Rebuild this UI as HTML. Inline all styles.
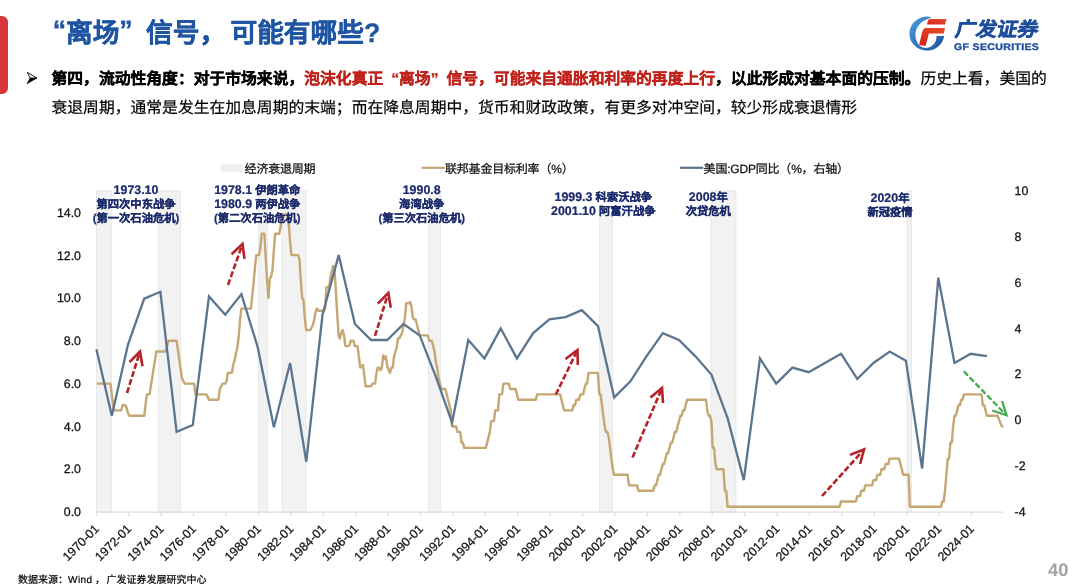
<!DOCTYPE html>
<html lang="zh-CN"><head><meta charset="utf-8"><title>“离场”信号，可能有哪些？</title>
<style>
html,body{margin:0;padding:0;background:#fff;}
body{width:1080px;height:588px;position:relative;overflow:hidden;text-rendering:geometricPrecision;will-change:transform;font-family:"Liberation Sans",sans-serif;color:#000;}
.abs{position:absolute;white-space:nowrap;}
#tab{left:-6px;top:16px;width:13.5px;height:78px;background:#d7373a;border-radius:6px;}
.title{top:12.5px;font-size:26.7px;line-height:40px;font-weight:bold;color:#1f55a2;-webkit-text-stroke:0.35px #1f55a2;}
.q{display:inline-block;width:1em;}.title .q{position:relative;top:-2.5px;}.ql{text-align:right;}.qr{text-align:left;}
#l1{left:51.5px;top:65.4px;font-size:15.8px;line-height:29px;font-weight:bold;-webkit-text-stroke:0.3px;}
#l1 .r{color:#c0231c;} #l1 .n{font-weight:normal;-webkit-text-stroke:0.2px #000;}
#l2{left:51.5px;top:93.8px;font-size:15.8px;line-height:29px;-webkit-text-stroke:0.2px #000;}
#src{left:18px;top:574.3px;font-size:10px;line-height:14px;-webkit-text-stroke:0.2px #000;}
#pg{left:1048px;top:558.5px;font-size:18.3px;line-height:22px;font-weight:bold;color:#a3a3a3;}
.ann{font-size:11.3px;line-height:13.6px;font-weight:bold;color:#1b2a6b;-webkit-text-stroke:0.22px #1b2a6b;text-align:center;transform:translateX(-50%);}
.ann b{font-size:12.4px;line-height:0;}
.lg{font-size:12px;line-height:16px;color:#111;-webkit-text-stroke:0.25px #111;letter-spacing:-0.2px;}
svg{position:absolute;left:0;top:0;}
svg text{font-family:"Liberation Sans",sans-serif;font-size:12.4px;fill:#111;stroke:#111;stroke-width:0.25px;}
#lgcn{left:953px;top:16.3px;font-size:19.4px;line-height:28px;font-weight:bold;color:#1f4e9d;-webkit-text-stroke:0.6px #1f4e9d;transform-origin:0 100%;transform:skewX(-11deg) scaleX(1.065);}
#lgen{left:954px;top:41.5px;font-size:9.6px;line-height:11px;font-weight:bold;color:#1f4e9d;-webkit-text-stroke:0.35px #1f4e9d;letter-spacing:0.3px;transform-origin:0 0;transform:scaleX(1.1);}
</style></head><body>
<div id="tab" class="abs"></div>
<div id="t1" class="abs title" style="left:39.3px;"><span class="q ql">“</span>离场<span class="q qr">”</span>信号，</div>
<div id="t2" class="abs title" style="left:230.5px;">可能有哪些?</div>
<div id="l1" class="abs">第四，流动性角度：对于市场来说，<span class="r">泡沫化真正<span class="q ql">“</span>离场<span class="q qr">”</span>信号，可能来自通胀和利率的再度上行</span>，以此形成对基本面的压制。<span class="n">历史上看，美国的</span></div>
<div id="l2" class="abs">衰退周期，通常是发生在加息周期的末端；而在降息周期中，货币和财政政策，有更多对冲空间，较少形成衰退情形</div>

<svg width="1080" height="588" viewBox="0 0 1080 588">
<g id="bands">
<rect x="96.4" y="191.0" width="14.9" height="321.2" fill="#f2f2f2" stroke="#e4e4e4" stroke-width="0.8"/>
<rect x="158.5" y="191.0" width="22.3" height="321.2" fill="#f2f2f2" stroke="#e4e4e4" stroke-width="0.8"/>
<rect x="258.5" y="191.0" width="8.8" height="321.2" fill="#f2f2f2" stroke="#e4e4e4" stroke-width="0.8"/>
<rect x="282.1" y="191.0" width="24.0" height="321.2" fill="#f2f2f2" stroke="#e4e4e4" stroke-width="0.8"/>
<rect x="428.4" y="191.0" width="12.4" height="321.2" fill="#f2f2f2" stroke="#e4e4e4" stroke-width="0.8"/>
<rect x="599.7" y="191.0" width="13.0" height="321.2" fill="#f2f2f2" stroke="#e4e4e4" stroke-width="0.8"/>
<rect x="710.9" y="191.0" width="25.0" height="321.2" fill="#f2f2f2" stroke="#e4e4e4" stroke-width="0.8"/>
<rect x="907.0" y="191.0" width="4.6" height="321.2" fill="#f2f2f2" stroke="#e4e4e4" stroke-width="0.8"/>
</g>
<rect x="597" y="189" width="19" height="24.7" fill="#fff"/>
<g id="axis">
<line x1="95.9" y1="512.2" x2="1002.5" y2="512.2" stroke="#dcdcdc" stroke-width="1.2"/>
<line x1="96.4" y1="512.2" x2="96.4" y2="516.2" stroke="#dcdcdc" stroke-width="1.2"/>
<line x1="128.8" y1="512.2" x2="128.8" y2="516.2" stroke="#dcdcdc" stroke-width="1.2"/>
<line x1="161.2" y1="512.2" x2="161.2" y2="516.2" stroke="#dcdcdc" stroke-width="1.2"/>
<line x1="193.6" y1="512.2" x2="193.6" y2="516.2" stroke="#dcdcdc" stroke-width="1.2"/>
<line x1="226.0" y1="512.2" x2="226.0" y2="516.2" stroke="#dcdcdc" stroke-width="1.2"/>
<line x1="258.5" y1="512.2" x2="258.5" y2="516.2" stroke="#dcdcdc" stroke-width="1.2"/>
<line x1="290.9" y1="512.2" x2="290.9" y2="516.2" stroke="#dcdcdc" stroke-width="1.2"/>
<line x1="323.3" y1="512.2" x2="323.3" y2="516.2" stroke="#dcdcdc" stroke-width="1.2"/>
<line x1="355.7" y1="512.2" x2="355.7" y2="516.2" stroke="#dcdcdc" stroke-width="1.2"/>
<line x1="388.1" y1="512.2" x2="388.1" y2="516.2" stroke="#dcdcdc" stroke-width="1.2"/>
<line x1="420.5" y1="512.2" x2="420.5" y2="516.2" stroke="#dcdcdc" stroke-width="1.2"/>
<line x1="452.9" y1="512.2" x2="452.9" y2="516.2" stroke="#dcdcdc" stroke-width="1.2"/>
<line x1="485.3" y1="512.2" x2="485.3" y2="516.2" stroke="#dcdcdc" stroke-width="1.2"/>
<line x1="517.8" y1="512.2" x2="517.8" y2="516.2" stroke="#dcdcdc" stroke-width="1.2"/>
<line x1="550.2" y1="512.2" x2="550.2" y2="516.2" stroke="#dcdcdc" stroke-width="1.2"/>
<line x1="582.6" y1="512.2" x2="582.6" y2="516.2" stroke="#dcdcdc" stroke-width="1.2"/>
<line x1="615.0" y1="512.2" x2="615.0" y2="516.2" stroke="#dcdcdc" stroke-width="1.2"/>
<line x1="647.4" y1="512.2" x2="647.4" y2="516.2" stroke="#dcdcdc" stroke-width="1.2"/>
<line x1="679.8" y1="512.2" x2="679.8" y2="516.2" stroke="#dcdcdc" stroke-width="1.2"/>
<line x1="712.2" y1="512.2" x2="712.2" y2="516.2" stroke="#dcdcdc" stroke-width="1.2"/>
<line x1="744.6" y1="512.2" x2="744.6" y2="516.2" stroke="#dcdcdc" stroke-width="1.2"/>
<line x1="777.1" y1="512.2" x2="777.1" y2="516.2" stroke="#dcdcdc" stroke-width="1.2"/>
<line x1="809.5" y1="512.2" x2="809.5" y2="516.2" stroke="#dcdcdc" stroke-width="1.2"/>
<line x1="841.9" y1="512.2" x2="841.9" y2="516.2" stroke="#dcdcdc" stroke-width="1.2"/>
<line x1="874.3" y1="512.2" x2="874.3" y2="516.2" stroke="#dcdcdc" stroke-width="1.2"/>
<line x1="906.7" y1="512.2" x2="906.7" y2="516.2" stroke="#dcdcdc" stroke-width="1.2"/>
<line x1="939.1" y1="512.2" x2="939.1" y2="516.2" stroke="#dcdcdc" stroke-width="1.2"/>
<line x1="971.5" y1="512.2" x2="971.5" y2="516.2" stroke="#dcdcdc" stroke-width="1.2"/>
</g>
<polyline id="tan" points="96.9,383.6 110.4,383.6 111.8,394.4 113.1,405.1 114.5,410.4 121.2,410.4 122.6,405.1 125.3,405.1 126.6,407.7 128.0,413.1 129.3,415.8 144.2,415.8 145.5,405.1 146.9,394.4 149.6,394.4 150.9,385.8 152.3,377.2 153.6,368.6 155.0,360.1 156.3,351.5 165.8,351.5 167.1,346.1 168.5,340.8 176.6,340.8 177.9,350.2 179.3,359.6 180.6,368.9 182.0,378.3 183.3,381.0 184.7,383.6 194.1,383.6 195.5,394.4 206.3,394.4 207.6,396.5 209.0,399.7 218.4,399.7 219.8,389.0 221.1,386.9 222.5,383.6 225.2,383.6 226.5,381.5 227.9,372.9 231.9,372.9 233.3,364.4 234.7,360.1 236.0,353.6 237.4,347.2 238.7,336.5 240.1,319.4 241.4,308.6 250.9,308.6 252.2,295.8 253.6,282.9 254.9,267.9 256.3,255.1 259.0,255.1 260.3,248.7 261.7,233.7 264.4,233.7 265.7,257.2 267.1,280.8 268.4,297.9 269.8,278.6 271.1,276.5 272.5,270.1 273.8,250.8 275.2,233.7 279.2,233.7 280.6,227.2 281.9,214.4 287.3,214.4 288.7,222.9 290.0,240.1 291.4,255.1 298.1,255.1 299.5,259.4 300.8,280.8 302.2,297.9 303.5,300.1 304.9,319.4 306.2,330.1 310.3,330.1 311.6,327.4 313.0,324.7 314.3,319.4 315.7,310.8 317.0,308.6 318.4,310.8 323.8,310.8 325.1,308.6 326.5,287.2 329.2,287.2 330.5,276.5 331.9,271.1 333.2,265.8 334.6,271.1 335.9,291.5 337.3,315.1 338.6,335.4 340.0,338.6 341.3,332.8 342.7,330.1 344.0,335.4 345.4,346.1 348.1,346.1 349.4,345.1 350.8,340.8 353.5,340.8 354.8,346.1 357.5,346.1 358.9,356.9 360.2,367.6 361.6,366.5 362.9,364.9 364.3,375.6 365.6,386.3 371.1,386.3 372.4,383.6 375.1,383.6 376.5,372.9 377.8,367.6 379.2,367.6 380.5,370.2 381.9,367.6 383.2,355.5 384.6,359.0 385.9,356.4 387.3,366.5 388.6,369.7 390.0,372.9 391.3,367.6 392.7,367.6 394.0,356.9 395.4,351.5 396.7,347.5 398.1,338.1 399.4,338.1 400.8,335.4 402.1,332.8 403.5,324.7 404.8,319.4 406.2,303.3 408.9,303.3 410.2,302.0 411.6,307.3 412.9,318.0 414.3,319.4 415.6,319.4 417.0,324.7 418.3,330.1 419.7,335.4 427.8,335.4 429.1,340.8 431.8,340.8 433.2,346.1 434.5,351.5 435.9,362.2 437.2,367.6 438.6,378.3 439.9,383.6 441.3,389.0 445.3,389.0 446.7,394.4 448.0,399.7 449.4,405.1 450.7,410.4 452.1,426.5 456.1,426.5 457.5,431.9 460.2,431.9 461.5,442.6 462.9,442.6 464.2,447.9 485.8,447.9 487.2,442.6 488.5,437.2 489.9,431.9 491.2,421.1 493.9,421.1 495.3,410.4 498.0,410.4 499.3,394.4 502.0,394.4 503.4,383.6 508.8,383.6 510.2,389.0 515.6,389.0 516.9,394.4 518.3,399.7 535.8,399.7 537.2,394.4 560.1,394.4 561.5,399.7 562.8,405.1 564.2,410.4 572.3,410.4 573.6,405.1 575.0,405.1 576.3,399.7 579.0,399.7 580.4,394.4 583.1,394.4 584.4,389.0 585.8,383.6 587.1,383.6 588.5,372.9 597.9,372.9 599.3,394.4 600.6,394.4 602.0,405.1 603.3,415.8 604.7,426.5 606.0,431.9 607.4,431.9 608.7,437.2 610.1,447.9 611.4,458.6 612.8,469.3 614.1,474.7 627.6,474.7 629.0,485.4 637.1,485.4 638.5,490.8 653.3,490.8 654.7,485.4 656.0,485.4 657.4,480.1 658.7,474.7 660.1,474.7 661.4,469.3 662.8,464.0 664.1,464.0 665.5,458.6 666.8,453.3 668.2,453.3 669.5,447.9 670.9,442.6 672.2,442.6 673.6,437.2 674.9,431.9 676.3,431.9 677.6,426.5 679.0,421.1 680.3,415.8 681.7,415.8 683.0,410.4 684.4,410.4 685.7,405.1 687.1,399.7 706.0,399.7 707.3,410.4 708.7,415.8 710.0,415.8 711.4,421.1 712.7,447.9 714.1,447.9 715.4,464.0 716.8,469.3 723.5,469.3 724.9,490.8 726.2,490.8 727.6,506.8 839.7,506.8 841.0,501.5 855.9,501.5 857.2,496.1 859.9,496.1 861.3,490.8 864.0,490.8 865.3,485.4 872.1,485.4 873.4,480.1 876.1,480.1 877.5,474.7 880.2,474.7 881.5,469.3 884.2,469.3 885.6,464.0 888.3,464.0 889.6,458.6 899.1,458.6 900.4,464.0 901.8,469.3 903.1,474.7 908.6,474.7 909.9,506.8 941.0,506.8 942.3,501.5 943.7,501.5 945.0,490.8 946.4,474.7 947.7,458.6 949.1,458.6 950.4,442.6 951.8,442.6 953.1,426.5 954.5,415.8 955.8,415.8 957.2,410.4 958.5,405.1 959.9,405.1 961.2,399.7 962.6,399.7 963.9,394.4 981.5,394.4 982.8,405.1 984.2,405.1 985.5,410.4 986.9,415.8 997.7,415.8 999.0,419.4 1000.4,422.9 1001.7,426.1 1003.1,427.1" fill="none" stroke="#c6a672" stroke-width="2.4" stroke-linejoin="round"/>
<polyline id="blue" points="96.4,349.2 111.8,415.8 128.0,344.6 144.2,298.7 160.4,291.8 176.6,431.9 192.8,425.0 209.0,296.4 225.2,314.8 241.4,294.1 257.6,346.9 273.9,427.3 290.1,363.0 306.3,461.7 322.5,314.8 338.7,255.1 354.9,324.0 371.1,340.0 387.3,340.0 403.5,324.0 419.7,335.4 435.9,376.8 452.1,422.7 468.3,340.0 484.5,358.4 500.7,328.5 516.9,358.4 533.2,333.1 549.4,319.4 565.6,317.1 581.8,310.2 598.0,326.2 614.2,397.4 630.4,381.3 646.6,356.1 662.8,333.1 679.0,340.0 695.2,356.1 711.4,374.5 727.6,418.1 743.8,480.1 760.0,358.4 776.2,383.6 792.4,367.6 808.7,372.2 824.9,363.0 841.1,353.8 857.3,379.0 873.5,363.0 889.7,351.5 905.9,360.7 922.1,468.6 938.3,277.6 954.5,363.0 970.7,353.8 986.9,356.1" fill="none" stroke="#5b758f" stroke-width="2.3" stroke-linejoin="miter"/>
<g id="arrows">
<line x1="127.0" y1="393.0" x2="140.0" y2="351.5" stroke="#b52329" stroke-width="2.6" stroke-dasharray="6 2.4"/>
<polyline points="142.5,366.3 140.0,351.5 129.5,362.2" fill="none" stroke="#b52329" stroke-width="2.6" stroke-linejoin="miter"/>
<line x1="228.0" y1="285.0" x2="242.5" y2="244.0" stroke="#b52329" stroke-width="2.6" stroke-dasharray="6 2.4"/>
<polyline points="244.5,258.9 242.5,244.0 231.6,254.3" fill="none" stroke="#b52329" stroke-width="2.6" stroke-linejoin="miter"/>
<line x1="375.0" y1="335.8" x2="388.3" y2="293.0" stroke="#b52329" stroke-width="2.6" stroke-dasharray="6 2.4"/>
<polyline points="390.8,307.8 388.3,293.0 377.8,303.7" fill="none" stroke="#b52329" stroke-width="2.6" stroke-linejoin="miter"/>
<line x1="555.8" y1="394.5" x2="577.5" y2="350.0" stroke="#b52329" stroke-width="2.6" stroke-dasharray="6 2.4"/>
<polyline points="577.8,365.0 577.5,350.0 565.5,359.0" fill="none" stroke="#b52329" stroke-width="2.6" stroke-linejoin="miter"/>
<line x1="632.5" y1="457.5" x2="662.0" y2="388.0" stroke="#b52329" stroke-width="2.6" stroke-dasharray="6 2.4"/>
<polyline points="663.0,403.0 662.0,388.0 650.5,397.6" fill="none" stroke="#b52329" stroke-width="2.6" stroke-linejoin="miter"/>
<line x1="822.0" y1="496.0" x2="864.0" y2="449.5" stroke="#b52329" stroke-width="2.6" stroke-dasharray="6 2.4"/>
<polyline points="860.1,464.0 864.0,449.5 850.0,454.9" fill="none" stroke="#b52329" stroke-width="2.6" stroke-linejoin="miter"/>
<line x1="963.8" y1="371.3" x2="1006.5" y2="415.3" stroke="#45aa50" stroke-width="2.3" stroke-dasharray="6 2.4"/>
<polyline points="992.3,410.5 1006.5,415.3 1002.1,401.0" fill="none" stroke="#45aa50" stroke-width="2.3" stroke-linejoin="miter"/>
</g>
<g id="xl">
<text transform="translate(99.8,529.6) rotate(-45)" text-anchor="end">1970-01</text>
<text transform="translate(132.2,529.6) rotate(-45)" text-anchor="end">1972-01</text>
<text transform="translate(164.6,529.6) rotate(-45)" text-anchor="end">1974-01</text>
<text transform="translate(197.0,529.6) rotate(-45)" text-anchor="end">1976-01</text>
<text transform="translate(229.4,529.6) rotate(-45)" text-anchor="end">1978-01</text>
<text transform="translate(261.9,529.6) rotate(-45)" text-anchor="end">1980-01</text>
<text transform="translate(294.3,529.6) rotate(-45)" text-anchor="end">1982-01</text>
<text transform="translate(326.7,529.6) rotate(-45)" text-anchor="end">1984-01</text>
<text transform="translate(359.1,529.6) rotate(-45)" text-anchor="end">1986-01</text>
<text transform="translate(391.5,529.6) rotate(-45)" text-anchor="end">1988-01</text>
<text transform="translate(423.9,529.6) rotate(-45)" text-anchor="end">1990-01</text>
<text transform="translate(456.3,529.6) rotate(-45)" text-anchor="end">1992-01</text>
<text transform="translate(488.7,529.6) rotate(-45)" text-anchor="end">1994-01</text>
<text transform="translate(521.2,529.6) rotate(-45)" text-anchor="end">1996-01</text>
<text transform="translate(553.6,529.6) rotate(-45)" text-anchor="end">1998-01</text>
<text transform="translate(586.0,529.6) rotate(-45)" text-anchor="end">2000-01</text>
<text transform="translate(618.4,529.6) rotate(-45)" text-anchor="end">2002-01</text>
<text transform="translate(650.8,529.6) rotate(-45)" text-anchor="end">2004-01</text>
<text transform="translate(683.2,529.6) rotate(-45)" text-anchor="end">2006-01</text>
<text transform="translate(715.6,529.6) rotate(-45)" text-anchor="end">2008-01</text>
<text transform="translate(748.0,529.6) rotate(-45)" text-anchor="end">2010-01</text>
<text transform="translate(780.5,529.6) rotate(-45)" text-anchor="end">2012-01</text>
<text transform="translate(812.9,529.6) rotate(-45)" text-anchor="end">2014-01</text>
<text transform="translate(845.3,529.6) rotate(-45)" text-anchor="end">2016-01</text>
<text transform="translate(877.7,529.6) rotate(-45)" text-anchor="end">2018-01</text>
<text transform="translate(910.1,529.6) rotate(-45)" text-anchor="end">2020-01</text>
<text transform="translate(942.5,529.6) rotate(-45)" text-anchor="end">2022-01</text>
<text transform="translate(974.9,529.6) rotate(-45)" text-anchor="end">2024-01</text>
</g>
<g id="yl">
<text x="81" y="516.0" text-anchor="end">0.0</text>
<text x="81" y="473.3" text-anchor="end">2.0</text>
<text x="81" y="430.5" text-anchor="end">4.0</text>
<text x="81" y="387.8" text-anchor="end">6.0</text>
<text x="81" y="345.0" text-anchor="end">8.0</text>
<text x="81" y="302.3" text-anchor="end">10.0</text>
<text x="81" y="259.6" text-anchor="end">12.0</text>
<text x="81" y="216.8" text-anchor="end">14.0</text>
</g>
<g id="yr">
<text x="1014.5" y="516.0">-4</text>
<text x="1014.5" y="470.1">-2</text>
<text x="1014.5" y="424.3">0</text>
<text x="1014.5" y="378.4">2</text>
<text x="1014.5" y="332.6">4</text>
<text x="1014.5" y="286.7">6</text>
<text x="1014.5" y="240.8">8</text>
<text x="1014.5" y="195.0">10</text>
</g>
<rect x="220.7" y="164" width="22" height="8" fill="#efefef"/>
<line x1="421.7" y1="167.8" x2="445" y2="167.8" stroke="#c6a672" stroke-width="2.2"/>
<line x1="680" y1="167.8" x2="703.3" y2="167.8" stroke="#5b758f" stroke-width="2.2"/>
<path d="M30.1,78 L37,78 L27.1,83.8 Z" fill="#000" stroke="#000" stroke-width="0.6" stroke-linejoin="miter"/>
<path d="M27.3,72.4 L37,78 L30.1,78 Z" fill="#fff" stroke="#000" stroke-width="0.9" stroke-linejoin="miter"/>
<!-- logo -->
<g id="logo">
<defs><linearGradient id="gb" x1="0" y1="0" x2="1" y2="1"><stop offset="0" stop-color="#4b9ddb"/><stop offset="0.55" stop-color="#2f74c0"/><stop offset="1" stop-color="#1f4fa0"/></linearGradient>
<linearGradient id="gr" x1="0" y1="1" x2="1" y2="0"><stop offset="0" stop-color="#d3231c"/><stop offset="1" stop-color="#e94f28"/></linearGradient></defs>
<path d="M931.6,17.2 A17.5,17 0 1 0 944.2,36 L936.7,36 C936.5,37.0 936.2,40.3 935.3,42.0 C934.4,43.7 933.0,45.2 931.4,46.2 C929.8,47.2 927.5,48.0 925.5,47.9 C923.5,47.8 921.1,46.8 919.5,45.4 C917.9,44.0 916.8,41.4 916.1,39.4 C915.4,37.4 915.3,35.6 915.5,33.5 C915.7,31.4 916.2,29.0 917.5,27.0 C918.8,25.0 920.6,22.9 923.0,21.3 C925.4,19.7 930.2,17.9 931.6,17.2  Z" fill="url(#gb)"/>
<path d="M929.8,19 L946.6,19 L945,24.6 L927,24.6 Q927.5,19.7 929.8,19 Z" fill="url(#gr)"/>
<path d="M925.5,28 L945,28 L943.8,33.5 L928.9,33.5 L925.6,45.9 L919.1,44.9 L922.1,32.2 Q923.2,28.4 925.5,28 Z" fill="url(#gr)"/>
</g>
</svg>

<div class="abs lg" style="left:244.6px;top:160.5px;">经济衰退周期</div>
<div class="abs lg" style="left:445px;top:160.5px;">联邦基金目标利率（%）</div>
<div class="abs lg" style="left:703.6px;top:160.5px;">美国:GDP同比（%，右轴）</div>

<div class="abs ann" style="left:136px;top:185.4px;"><b>1973.10</b><br>第四次中东战争<br>(第一次石油危机)</div>
<div class="abs ann" style="left:257.3px;top:185.4px;"><b>1978.1</b> 伊朗革命<br><b>1980.9</b> 两伊战争<br>(第二次石油危机)</div>
<div class="abs ann" style="left:421.7px;top:185.4px;"><b>1990.8</b><br>海湾战争<br>(第三次石油危机)</div>
<div class="abs ann" style="left:603.3px;top:191.4px;line-height:14px;"><b>1999.3</b> 科索沃战争<br><b>2001.10</b> 阿富汗战争</div>
<div class="abs ann" style="left:708.3px;top:191.4px;line-height:14px;"><b>2008</b>年<br>次贷危机</div>
<div class="abs ann" style="left:890px;top:192px;line-height:14px;"><b>2020</b>年<br>新冠疫情</div>

<div id="lgcn" class="abs">广发证券</div>
<div id="lgen" class="abs">GF SECURITIES</div>
<div id="src" class="abs">数据来源：<span style="letter-spacing:0.45px">Wind</span><span style="margin:0 1.5px 0 2.5px">，</span>广发证券发展研究中心</div>
<div id="pg" class="abs">40</div>
</body></html>
